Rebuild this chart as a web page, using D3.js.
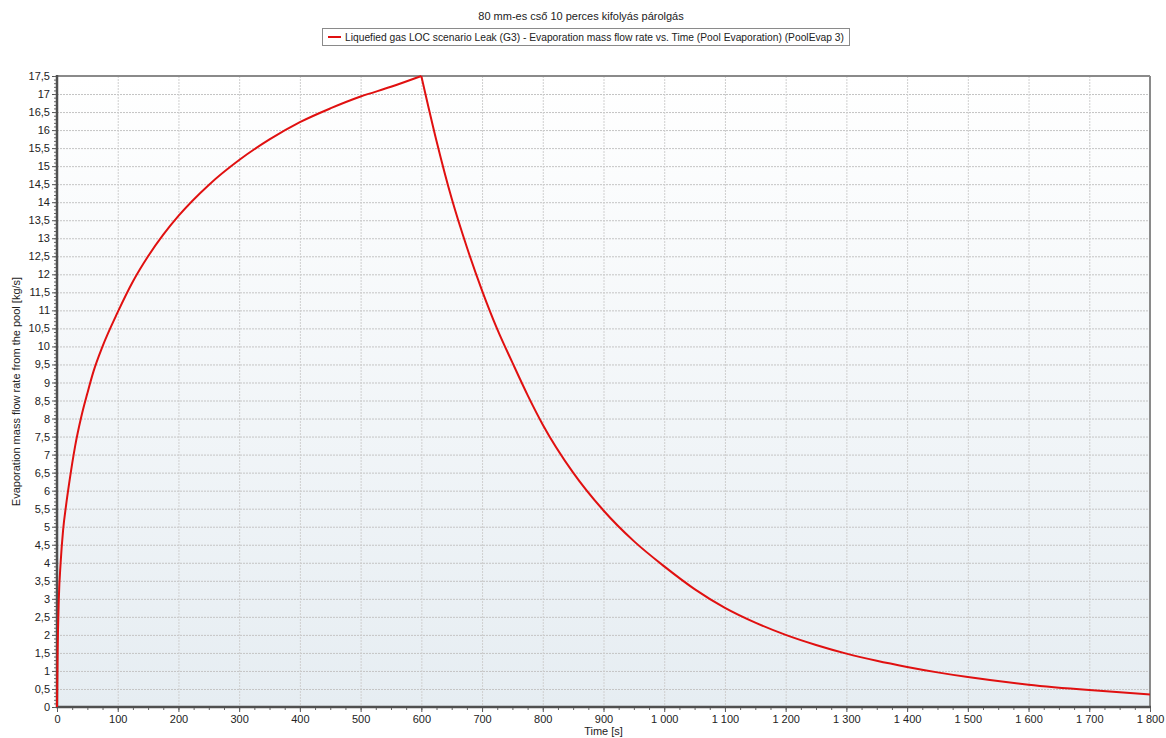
<!DOCTYPE html>
<html>
<head>
<meta charset="utf-8">
<script src="https://cdn.jsdelivr.net/npm/d3@7"></script>
<style>
  body { margin: 0; background: #ffffff; }
  text { font-family: "Liberation Sans", Arial, sans-serif; fill: #222; }
</style>
</head>
<body>
<div id="container"></div>
<script>
let width = 1166;
let height = 738;

let title = "80 mm-es cső 10 perces kifolyás párolgás";
let seriesName = "Liquefied gas LOC scenario Leak (G3) - Evaporation mass flow rate vs. Time (Pool Evaporation) (PoolEvap 3)";
let xLabel = "Time [s]";
let yLabel = "Evaporation mass flow rate from the pool [kg/s]";

// time [s]
let times = [0, 1, 3, 6, 10, 15, 20, 30, 40, 50, 60, 75, 100, 125, 150, 175, 200, 250, 300, 350,
    400, 450, 500, 550, 600, 625, 650, 675, 700, 725, 750, 775, 800, 850, 900, 950,
    1000, 1050, 1100, 1150, 1200, 1250, 1300, 1350, 1400, 1450, 1500, 1600, 1700, 1800];
// evaporation mass flow rate [kg/s]
let rates = [0, 1.5, 3.0, 4.0, 4.9, 5.6, 6.2, 7.25, 8.05, 8.7, 9.3, 10.0, 10.95, 11.8, 12.5, 13.1, 13.62, 14.48, 15.17, 15.74,
    16.22, 16.6, 16.93, 17.2, 17.5, 15.7, 14.1, 12.75, 11.55, 10.48, 9.55, 8.65, 7.83, 6.5, 5.45, 4.6,
    3.9, 3.27, 2.75, 2.34, 2.0, 1.72, 1.48, 1.28, 1.11, 0.96, 0.83, 0.62, 0.47, 0.35];

let xTicks = [0, 100, 200, 300, 400, 500, 600, 700, 800, 900, 1000, 1100, 1200, 1300, 1400, 1500, 1600, 1700, 1800];
let yTicks = [0, 0.5, 1, 1.5, 2, 2.5, 3, 3.5, 4, 4.5, 5, 5.5, 6, 6.5, 7, 7.5, 8, 8.5, 9, 9.5, 10,
    10.5, 11, 11.5, 12, 12.5, 13, 13.5, 14, 14.5, 15, 15.5, 16, 16.5, 17, 17.5];

let data = times.map((t, i) => ({ t: t, v: rates[i] }));
// leak stops at 600 s: split so the peak stays sharp
let rising = data.filter((d) => d.t <= 600);
let falling = data.filter((d) => d.t >= 600);

let plotLeft = 57, plotRight = 1150, plotTop = 76, plotBottom = 707;

let svg = d3.select("#container")
    .append("svg")
    .attr("width", width)
    .attr("height", height);

let x = d3.scaleLinear().domain([0, 1800]).range([plotLeft, plotRight]);
let y = d3.scaleLinear().domain([0, 17.5]).range([plotBottom, plotTop]);

let locale = d3.formatLocale({ decimal: ",", thousands: " ", grouping: [3], currency: ["", ""] });
let xFmt = locale.format(",");
let yFmt = (d) => String(d).replace(".", ",");

// plot background gradient
let grad = svg.append("defs").append("linearGradient")
    .attr("id", "bg")
    .attr("x1", 0).attr("y1", 0).attr("x2", 0).attr("y2", 1);
grad.append("stop").attr("offset", "0%").attr("stop-color", "#ffffff");
grad.append("stop").attr("offset", "100%").attr("stop-color", "#e6edf2");

svg.append("rect")
    .attr("x", plotLeft).attr("y", plotTop)
    .attr("width", plotRight - plotLeft).attr("height", plotBottom - plotTop)
    .attr("fill", "url(#bg)");

// grid
svg.append("g")
    .selectAll("line")
    .data(yTicks.slice(1, -1))
    .enter()
    .append("line")
    .attr("x1", plotLeft).attr("x2", plotRight)
    .attr("y1", (d) => y(d) + 0.5).attr("y2", (d) => y(d) + 0.5)
    .attr("stroke", "#c4c4c4")
    .attr("stroke-dasharray", "2,1");

svg.append("g")
    .selectAll("line")
    .data(xTicks.slice(1, -1))
    .enter()
    .append("line")
    .attr("x1", (d) => x(d) + 0.5).attr("x2", (d) => x(d) + 0.5)
    .attr("y1", plotTop).attr("y2", plotBottom)
    .attr("stroke", "#cfcfcf")
    .attr("stroke-dasharray", "2,1");

// axes
let yAxis = d3.axisLeft(y)
    .tickValues(yTicks)
    .tickFormat(yFmt)
    .tickSize(4)
    .tickPadding(2);
let yAxisG = svg.append("g")
    .attr("transform", `translate(${plotLeft - 1},0)`)
    .call(yAxis);

let xAxis = d3.axisBottom(x)
    .tickValues(xTicks)
    .tickFormat(xFmt)
    .tickSize(4)
    .tickPadding(3);
let xAxisG = svg.append("g")
    .attr("transform", `translate(0,${plotBottom + 1})`)
    .call(xAxis);

[yAxisG, xAxisG].forEach((g) => {
    g.select(".domain").remove();
    g.selectAll(".tick line").attr("stroke", "#555");
    g.selectAll(".tick text")
        .attr("font-size", 11)
        .attr("fill", "#222")
        .attr("font-family", "Liberation Sans, Arial, sans-serif");
});

// minor ticks
svg.append("g")
    .selectAll("line")
    .data(d3.range(0, 17.51, 0.1))
    .enter()
    .append("line")
    .attr("x1", plotLeft - 3).attr("x2", plotLeft)
    .attr("y1", (d) => y(d) + 0.5).attr("y2", (d) => y(d) + 0.5)
    .attr("stroke", "#666");

svg.append("g")
    .selectAll("line")
    .data(d3.range(0, 1801, 25))
    .enter()
    .append("line")
    .attr("x1", (d) => x(d) + 0.5).attr("x2", (d) => x(d) + 0.5)
    .attr("y1", plotBottom).attr("y2", plotBottom + 3)
    .attr("stroke", "#666");

// frame
svg.append("line")
    .attr("x1", plotLeft).attr("x2", plotRight).attr("y1", plotTop).attr("y2", plotTop)
    .attr("stroke", "#8a8a8a").attr("stroke-width", 2);
svg.append("line")
    .attr("x1", plotRight).attr("x2", plotRight).attr("y1", plotTop).attr("y2", plotBottom)
    .attr("stroke", "#8a8a8a").attr("stroke-width", 2);
svg.append("line")
    .attr("x1", plotLeft).attr("x2", plotLeft).attr("y1", plotTop - 1).attr("y2", plotBottom + 1)
    .attr("stroke", "#505050").attr("stroke-width", 2.5);
svg.append("line")
    .attr("x1", plotLeft - 1).attr("x2", plotRight + 1).attr("y1", plotBottom).attr("y2", plotBottom)
    .attr("stroke", "#505050").attr("stroke-width", 2.5);

// series line
let line = d3.line()
    .x((d) => x(d.t))
    .y((d) => y(d.v))
    .curve(d3.curveMonotoneX);

svg.selectAll(".series")
    .data([rising, falling])
    .enter()
    .append("path")
    .attr("class", "series")
    .attr("d", line)
    .attr("fill", "none")
    .attr("stroke", "#e01010")
    .attr("stroke-width", 2)
    .attr("stroke-linejoin", "miter");

// title
svg.append("text")
    .attr("x", 581)
    .attr("y", 20)
    .attr("text-anchor", "middle")
    .attr("font-size", 11)
    .text(title);

// legend
svg.append("rect")
    .attr("x", 322.5).attr("y", 28.5)
    .attr("width", 527).attr("height", 17)
    .attr("fill", "#ffffff")
    .attr("stroke", "#8a8a8a");
svg.append("line")
    .attr("x1", 328).attr("x2", 341)
    .attr("y1", 37).attr("y2", 37)
    .attr("stroke", "#e01010")
    .attr("stroke-width", 2);
svg.append("text")
    .attr("x", 345)
    .attr("y", 41)
    .attr("font-size", 11)
    .attr("textLength", 499)
    .attr("lengthAdjust", "spacingAndGlyphs")
    .text(seriesName);

// axis labels
svg.append("text")
    .attr("x", (plotLeft + plotRight) / 2)
    .attr("y", 735)
    .attr("text-anchor", "middle")
    .attr("font-size", 11)
    .text(xLabel);

svg.append("text")
    .attr("transform", `translate(20,${(plotTop + plotBottom) / 2}) rotate(-90)`)
    .attr("text-anchor", "middle")
    .attr("font-size", 11)
    .text(yLabel);
</script>
</body>
</html>
